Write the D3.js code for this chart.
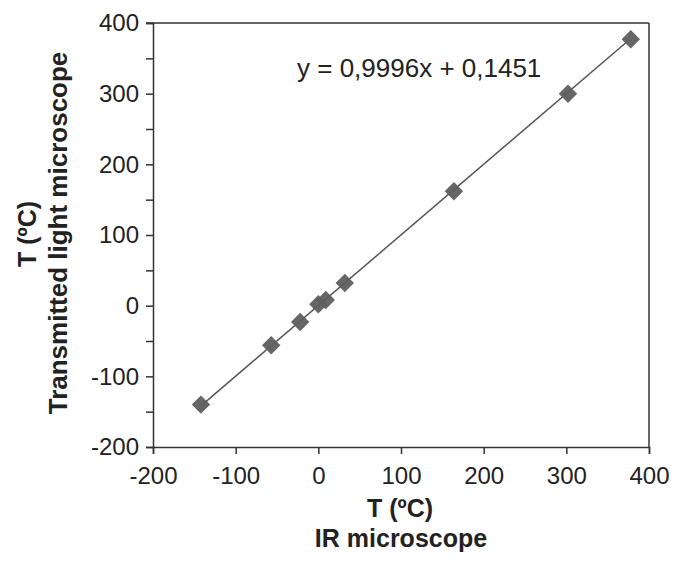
<!DOCTYPE html>
<html>
<head>
<meta charset="utf-8">
<script src="https://cdn.jsdelivr.net/npm/d3@7"></script>
<style>
  body { margin: 0; background: #fff; }
  text { font-family: Arial, "Liberation Sans", sans-serif; }
</style>
</head>
<body>
<div id="chart"></div>
<script>
// values (IR microscope vs transmitted light microscope)
const irTemp = [-142, -57, -22, 0, 9, 32, 164, 302, 378];
const tlTemp = [-140, -56, -23, 2, 8, 32, 162, 300, 377];
const slope = 0.9996;
const intercept = 0.1451;
const xTicks = [-200, -100, 0, 100, 200, 300, 400];
const yTicks = [-200, -150, -100, -50, 0, 50, 100, 150, 200, 250, 300, 350, 400];
const eqLabel = "y = 0,9996x + 0,1451";

const W = 678, H = 566;
const margin = {left: 153, top: 23, right: 29, bottom: 119};
const iw = W - margin.left - margin.right;
const ih = H - margin.top - margin.bottom;

const svg = d3.select("#chart").append("svg")
  .attr("width", W).attr("height", H);
const g = svg.append("g")
  .attr("transform", "translate(" + margin.left + "," + margin.top + ")");

const x = d3.scaleLinear().domain([-200, 400]).range([0, iw]);
const y = d3.scaleLinear().domain([-200, 400]).range([ih, 0]);

// frame (top + right)
g.append("line").attr("x1", -7).attr("x2", iw).attr("y1", 0).attr("y2", 0)
  .attr("stroke", "#333").attr("stroke-width", 1.5);
g.append("line").attr("x1", iw).attr("x2", iw).attr("y1", 0).attr("y2", ih)
  .attr("stroke", "#333").attr("stroke-width", 1.5);

// axes (plain hyphen for negatives, like the original)
const xAxis = g.append("g").attr("transform", "translate(0," + ih + ")")
  .call(d3.axisBottom(x).tickValues(xTicks).tickSize(7).tickPadding(6)
    .tickFormat(d => String(d)));
const yAxis = g.append("g")
  .call(d3.axisLeft(y).tickValues(yTicks).tickSize(7).tickPadding(7)
    .tickFormat(d => d % 100 === 0 ? String(d) : ""));

[xAxis, yAxis].forEach(a => {
  a.select(".domain").attr("stroke", "#333").attr("stroke-width", 1.5);
  a.selectAll(".tick line").attr("stroke", "#333").attr("stroke-width", 1.5);
  a.selectAll("text").attr("font-size", 24).attr("fill", "#222")
    .style("font-family", "Arial, 'Liberation Sans', sans-serif");
});
xAxis.selectAll("text").attr("dy", "1.0em");

// trend line
const xMin = d3.min(irTemp), xMax = d3.max(irTemp);
g.append("line")
  .attr("x1", x(xMin)).attr("y1", y(slope * xMin + intercept))
  .attr("x2", x(xMax)).attr("y2", y(slope * xMax + intercept))
  .attr("stroke", "#555").attr("stroke-width", 1.5);

// markers
const diamond = d3.symbol().type(d3.symbolSquare).size(170);
g.selectAll(".pt").data(irTemp).join("path")
  .attr("class", "pt")
  .attr("d", diamond)
  .attr("transform", (d, i) => "translate(" + x(d) + "," + y(tlTemp[i]) + ") rotate(45)")
  .attr("fill", "#5e5e5e")
  .attr("opacity", 0.95);

// equation
svg.append("text").attr("x", 297).attr("y", 77)
  .attr("font-size", 26).attr("fill", "#222").text(eqLabel);

// axis titles
svg.append("text").attr("x", 400).attr("y", 517).attr("text-anchor", "middle")
  .attr("font-size", 25).attr("font-weight", "bold").attr("fill", "#222")
  .text("T (ºC)");
svg.append("text").attr("x", 401).attr("y", 547).attr("text-anchor", "middle")
  .attr("font-size", 25).attr("font-weight", "bold").attr("fill", "#222")
  .text("IR microscope");

svg.append("text").attr("transform", "translate(36,234) rotate(-90)")
  .attr("text-anchor", "middle")
  .attr("font-size", 25).attr("font-weight", "bold").attr("fill", "#222")
  .text("T (ºC)");
svg.append("text").attr("transform", "translate(67,233) rotate(-90)")
  .attr("text-anchor", "middle")
  .attr("font-size", 26).attr("font-weight", "bold").attr("fill", "#222")
  .text("Transmitted light microscope");
</script>
</body>
</html>
